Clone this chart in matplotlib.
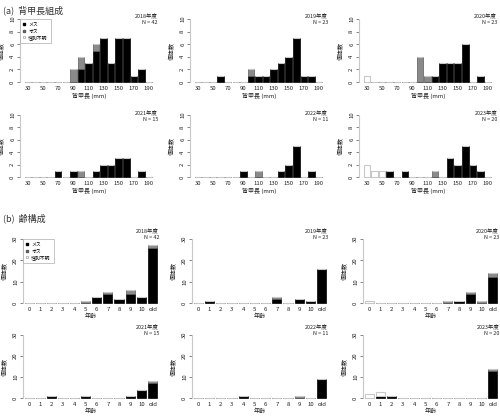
import matplotlib
matplotlib.use("Agg")
import matplotlib.pyplot as plt
import numpy as np
from matplotlib.lines import Line2D

plt.rcParams['font.family'] = ['Noto Sans CJK JP', 'DejaVu Sans']

years = ["2018年度", "2019年度", "2020年度", "2021年度", "2022年度", "2023年度"]
n_labels = ["N = 42", "N = 23", "N = 23", "N = 15", "N = 11", "N = 20"]

# Carapace length bins (mm)
len_bins = [30, 40, 50, 60, 70, 80, 90, 100, 110, 120, 130, 140, 150, 160, 170, 180, 190]
len_ticks = [30, 50, 70, 90, 110, 130, 150, 170, 190]

len_female = [
    [0, 0, 0, 0, 0, 0, 0, 2, 3, 5, 7, 3, 7, 7, 1, 2, 0],
    [0, 0, 0, 1, 0, 0, 0, 1, 1, 1, 2, 3, 4, 7, 1, 1, 0],
    [0, 0, 0, 0, 0, 0, 0, 0, 0, 1, 3, 3, 3, 6, 0, 1, 0],
    [0, 0, 0, 0, 1, 0, 1, 0, 0, 1, 2, 2, 3, 3, 0, 1, 0],
    [0, 0, 0, 0, 0, 0, 1, 0, 0, 0, 0, 1, 2, 5, 0, 1, 0],
    [0, 0, 0, 1, 0, 1, 0, 0, 0, 0, 0, 3, 2, 5, 2, 1, 0],
]
len_male = [
    [0, 0, 0, 0, 0, 0, 2, 2, 0, 1, 0, 0, 0, 0, 0, 0, 0],
    [0, 0, 0, 0, 0, 0, 0, 1, 0, 0, 0, 0, 0, 0, 0, 0, 0],
    [0, 0, 0, 0, 0, 0, 0, 4, 1, 0, 0, 0, 0, 0, 0, 0, 0],
    [0, 0, 0, 0, 0, 0, 0, 1, 0, 0, 0, 0, 0, 0, 0, 0, 0],
    [0, 0, 0, 0, 0, 0, 0, 0, 1, 0, 0, 0, 0, 0, 0, 0, 0],
    [0, 0, 0, 0, 0, 0, 0, 0, 0, 1, 0, 0, 0, 0, 0, 0, 0],
]
len_unknown = [
    [0] * 17,
    [0] * 17,
    [1, 0, 0, 0, 0, 0, 0, 0, 0, 0, 0, 0, 0, 0, 0, 0, 0],
    [0] * 17,
    [0] * 17,
    [2, 1, 1, 0, 0, 0, 0, 0, 0, 0, 0, 0, 0, 0, 0, 0, 0],
]

# Age composition
age_labels = ["0", "1", "2", "3", "4", "5", "6", "7", "8", "9", "10", "old"]
age_female = [
    [0, 0, 0, 0, 0, 0, 3, 4, 2, 4, 3, 26],
    [0, 1, 0, 0, 0, 0, 0, 2, 0, 2, 1, 16],
    [0, 0, 0, 0, 0, 0, 0, 0, 1, 4, 0, 12],
    [0, 0, 1, 0, 0, 1, 0, 0, 0, 1, 4, 7],
    [0, 0, 0, 0, 1, 0, 0, 0, 0, 0, 0, 9],
    [0, 1, 1, 0, 0, 0, 0, 0, 0, 0, 0, 13],
]
age_male = [
    [0, 0, 0, 0, 0, 1, 0, 1, 0, 2, 0, 1],
    [0, 0, 0, 0, 0, 0, 0, 1, 0, 0, 0, 0],
    [0, 0, 0, 0, 0, 0, 0, 1, 0, 1, 1, 2],
    [0, 0, 0, 0, 0, 0, 0, 0, 0, 0, 0, 1],
    [0, 0, 0, 0, 0, 0, 0, 0, 0, 1, 0, 0],
    [0, 0, 0, 0, 0, 0, 0, 0, 0, 0, 0, 1],
]
age_unknown = [
    [0] * 12,
    [0] * 12,
    [1, 0, 0, 0, 0, 0, 0, 0, 0, 0, 0, 0],
    [0] * 12,
    [0] * 12,
    [2, 2, 0, 0, 0, 0, 0, 0, 0, 0, 0, 0],
]

C_F = "#000000"
C_M = "#8a8a8a"
C_M_EDGE = "#5a5a5a"
C_U_EDGE = "#c8c8c8"
SPINE = "#c8c8c8"
FS = 4.3
TXT = "#222222"

fig = plt.figure(figsize=(5.0, 4.17), dpi=100)
W, H = 500.0, 417.0

fig.text(3 / W, 1 - 10 / H, "(a)  背甲長組成", fontsize=6.5, va="center", ha="left", color="#333333")
fig.text(3 / W, 1 - 218 / H, "(b)  齢構成", fontsize=6.5, va="center", ha="left", color="#333333")


def style_axes(ax, ymax, yticks, width_px):
    for s in ["top", "right", "bottom"]:
        ax.spines[s].set_visible(False)
    ax.spines["left"].set_color(SPINE)
    ax.spines["left"].set_linewidth(0.8)
    ax.spines["left"].set_bounds(0, ymax)
    ax.set_ylim(0, ymax)
    ax.set_yticks(yticks)
    ax.set_yticklabels([str(t) for t in yticks], rotation=90, va="center", fontsize=FS, color=TXT)
    ax.tick_params(axis="y", length=2, width=0.5, color="#555555", pad=1.5)
    ax.tick_params(axis="x", length=0, pad=3, labelsize=FS, labelcolor=TXT)
    ax.set_ylabel("個体数", fontsize=FS, color=TXT)
    ax.yaxis.set_label_coords(-14.5 / width_px, 0.5)


def draw_bars(ax, x, f, m, u, width):
    f = np.array(f, float)
    m = np.array(m, float)
    u = np.array(u, float)
    ax.bar(x, f, width=width, color=C_F, edgecolor=C_F, linewidth=0.5, clip_on=False)
    ax.bar(x, m, bottom=f, width=width, color=C_M, edgecolor=C_M_EDGE, linewidth=0.5, clip_on=False)
    ax.bar(x, u, bottom=f + m, width=width, color="white", edgecolor=C_U_EDGE, linewidth=0.8, clip_on=False)


def add_legend(ax):
    handles = [
        Line2D([], [], marker="s", linestyle="", markerfacecolor=C_F, markeredgecolor=C_F, markersize=2.0),
        Line2D([], [], marker="s", linestyle="", markerfacecolor=C_M, markeredgecolor=C_M_EDGE, markersize=2.0),
        Line2D([], [], marker="s", linestyle="", markerfacecolor="white", markeredgecolor="#888888",
               markersize=2.0, markeredgewidth=0.4),
    ]
    leg = ax.legend(handles, ["メス", "オス", "性別不明"], loc="upper left", bbox_to_anchor=(0.0, 1.0),
                    fontsize=3.5, frameon=True, fancybox=False, handlelength=0.6, handletextpad=0.5,
                    borderpad=0.6, labelspacing=0.3, borderaxespad=0.0)
    leg.get_frame().set_edgecolor("#aaaaaa")
    leg.get_frame().set_linewidth(0.6)


# Length panels
len_lefts = [20, 190, 359]
len_rows = [(82, 63), (177, 62)]
for i in range(6):
    r, c = divmod(i, 3)
    base, h = len_rows[r]
    ax = fig.add_axes([len_lefts[c] / W, 1 - base / H, 138 / W, h / H])
    draw_bars(ax, len_bins, len_female[i], len_male[i], len_unknown[i], 8.6)
    ax.set_xlim(19.4, 202)
    ax.set_xticks(len_ticks)
    ax.set_xticklabels([str(t) for t in len_ticks])
    style_axes(ax, 10, [0, 2, 4, 6, 8, 10], 138)
    ax.set_xlabel("背甲長 (mm)", fontsize=FS, labelpad=1.5, color=TXT)
    ax.text(1.0, 1.09, years[i] + "\n" + n_labels[i], transform=ax.transAxes, ha="right", va="top",
            fontsize=3.9, linespacing=1.4, color=TXT)
    if i == 0:
        add_legend(ax)

# Age panels
age_lefts = [23, 192, 363]
age_rows = [(303, 64), (398, 63)]
xa = np.arange(len(age_labels))
for i in range(6):
    r, c = divmod(i, 3)
    base, h = age_rows[r]
    ax = fig.add_axes([age_lefts[c] / W, 1 - base / H, 136 / W, h / H])
    draw_bars(ax, xa, age_female[i], age_male[i], age_unknown[i], 0.82)
    ax.set_xlim(-0.55, 11.55)
    ax.set_xticks(xa)
    ax.set_xticklabels(age_labels)
    style_axes(ax, 30, [0, 10, 20, 30], 136)
    ax.set_xlabel("年齢", fontsize=FS, labelpad=1.0, color=TXT)
    ax.text(1.0, 1.17, years[i] + "\n" + n_labels[i], transform=ax.transAxes, ha="right", va="top",
            fontsize=3.9, linespacing=1.4, color=TXT)
    if i == 0:
        add_legend(ax)

fig.savefig("out.png", dpi=100)
